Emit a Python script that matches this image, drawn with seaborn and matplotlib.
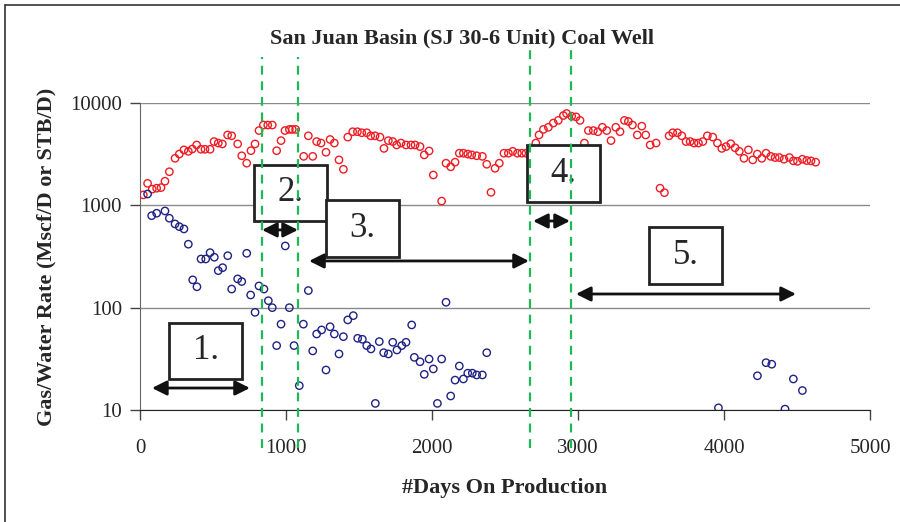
import numpy as np
import pandas as pd
import matplotlib
matplotlib.use("Agg")
import matplotlib.pyplot as plt
import seaborn as sns
from matplotlib.patches import Rectangle
from matplotlib.lines import Line2D

# ---- data ----
gas_days = [23, 52, 84, 114, 144, 171, 201, 240, 269, 301, 331, 358, 388, 418, 445, 480,
            507, 536, 564, 600, 628, 669, 697, 731, 760, 788, 815, 845, 875, 906, 936, 966,
            993, 1023, 1043, 1066, 1121, 1153, 1183, 1210, 1240, 1274, 1302, 1331, 1363, 1393,
            1423, 1457, 1489, 1519, 1553, 1580, 1610, 1644, 1671, 1701, 1731, 1758, 1788, 1822,
            1856, 1884, 1918, 1947, 1980, 2009, 2066, 2096, 2128, 2158, 2187, 2215, 2245, 2272,
            2306, 2345, 2375, 2404, 2432, 2461, 2493, 2523, 2553, 2585, 2615, 2644, 2676, 2711,
            2733, 2763, 2797, 2831, 2865, 2900, 2922, 2957, 2987, 3014, 3044, 3071, 3105, 3136,
            3167, 3197, 3226, 3259, 3288, 3318, 3345, 3373, 3406, 3437, 3464, 3494, 3535, 3562,
            3592, 3624, 3649, 3681, 3711, 3740, 3768, 3795, 3825, 3855, 3886, 3923, 3955, 3985,
            4014, 4046, 4076, 4105, 4137, 4167, 4197, 4228, 4259, 4288, 4320, 4350, 4379, 4411,
            4448, 4475, 4503, 4537, 4567, 4596, 4628]
gas_rate = [1265, 1640, 1440, 1470, 1490, 1720, 2130, 2880, 3170, 3480, 3370, 3550, 3890, 3530,
            3530, 3530, 4200, 4060, 3980, 4870, 4780, 3980, 3050, 2580, 3420, 3980, 5380, 6090,
            6090, 6090, 3420, 4290, 5380, 5520, 5520, 5520, 3010, 4780, 3010, 4200, 4060, 3300,
            4400, 4060, 2780, 2250, 4640, 5240, 5240, 5120, 5120, 4780, 4780, 4640, 3600, 4290,
            4200, 3890, 4060, 3890, 3890, 3890, 3750, 3110, 3400, 1980, 1100, 2580, 2380, 2640,
            3230, 3230, 3170, 3110, 3050, 3010, 2520, 1340, 2300, 2580, 3230, 3230, 3370, 3230,
            3230, 3230, 3010, 4060, 4870, 5520, 5790, 6370, 6760, 7540, 7890, 7420, 7320, 6760,
            4060, 5380, 5380, 5240, 5790, 5380, 4290, 5790, 5240, 6760, 6600, 6090, 4870, 5940,
            4870, 3890, 4060, 1470, 1330, 4780, 5120, 5120, 4780, 4200, 4200, 4060, 4060, 4200,
            4780, 4640, 4060, 3600, 3750, 4000, 3650, 3370, 2880, 3480, 2780, 3170, 2880, 3230,
            3010, 2930, 2930, 2820, 2930, 2720, 2690, 2820, 2740, 2720, 2640]

water_days = [52, 80, 114, 171, 201, 240, 269, 301, 331, 361, 390, 418, 450, 480, 509, 536,
              566, 601, 628, 669, 697, 731, 758, 788, 815, 849, 879, 906, 936, 966, 995, 1023,
              1055, 1091, 1119, 1153, 1183, 1210, 1244, 1274, 1302, 1331, 1363, 1393, 1423, 1461,
              1491, 1523, 1553, 1582, 1612, 1639, 1669, 1701, 1731, 1760, 1793, 1822, 1861, 1879,
              1918, 1947, 1980, 2009, 2037, 2066, 2096, 2128, 2158, 2187, 2215, 2245, 2276, 2306,
              2345, 2375, 3962, 4229, 4288, 4327, 4418, 4475, 4537]
water_rate = [1290, 792, 837, 881, 748, 658, 619, 588, 417, 187, 160, 299, 299, 345, 311, 230,
              246, 322, 152, 191, 180, 340, 133, 90, 163, 152, 117, 100, 42.6, 69, 401, 100,
              42.6, 17.3, 69, 147, 37.8, 55.3, 60.6, 24.6, 65.1, 55.3, 35.3, 52.1, 75.9, 83.6,
              50.2, 49.1, 42.6, 39.5, 11.6, 46.6, 36.3, 35.3, 45.9, 38.6, 42.6, 45.9, 67.8, 32.7,
              29.6, 22.3, 31.5, 25.2, 11.6, 31.5, 113, 13.7, 19.6, 26.9, 20.1, 22.9, 22.9, 22.0,
              22.0, 36.3, 10.5, 21.6, 29.0, 28.0, 10.2, 20.1, 15.5]

# period boundaries (days) and annotation labels
boundaries = [836, 1082, 2671, 2952]
period_labels = ["1.", "2.", "3.", "4.", "5."]
arrow_start = [82, 836, 1158, 2692, 2986]
arrow_end = [753, 1082, 2664, 2945, 4493]
arrow_level = [16.4, 575, 286, 703, 136]
box_left = [199, 781, 1274, 2651, 3486]
box_bottom = [20.1, 703, 313, 1079, 171]
box_top = [70.8, 2484, 1130, 3890, 615]
box_width = 500

gas = pd.DataFrame({"days": gas_days, "rate": gas_rate})
water = pd.DataFrame({"days": water_days, "rate": water_rate})

sns.set_style("white")
plt.rcParams["font.family"] = ["Liberation Serif", "DejaVu Serif"]

fig = plt.figure(figsize=(9, 5.22), dpi=100)
ax = fig.add_axes([140 / 900, 1 - 410 / 522, 730 / 900, 307 / 522])

sns.scatterplot(data=gas, x="days", y="rate", ax=ax, marker="o", s=28,
                facecolor="none", edgecolor="#ee1c24", linewidth=1.0, zorder=3)
sns.scatterplot(data=water, x="days", y="rate", ax=ax, marker="o", s=28,
                facecolor="none", edgecolor="#1f2283", linewidth=1.0, zorder=3)

ax.set_yscale("log")
ax.set_ylim(10, 10000)
ax.set_xlim(0, 5000)
ax.set_xticks(range(0, 5001, 1000))
ax.set_yticks([10, 100, 1000, 10000])
ax.set_yticklabels(["10", "100", "1000", "10000"])
ax.yaxis.set_minor_locator(matplotlib.ticker.NullLocator())
ax.grid(axis="y", color="#8a8a8a", linewidth=1.0)
ax.set_axisbelow(True)
for side in ["top", "right"]:
    ax.spines[side].set_visible(False)
ax.spines["left"].set_color("#666666")
ax.spines["bottom"].set_color("#222222")
ax.tick_params(axis="both", labelsize=15, length=7, width=1, direction="out",
               color="#444444", left=True, bottom=True)
ax.tick_params(axis="x", pad=14)
ax.tick_params(axis="y", pad=6)

ax.set_xlabel("#Days On Production", fontsize=16, fontweight="bold")
ax.set_ylabel("Gas/Water Rate (Mscf/D or STB/D)", fontsize=16, fontweight="bold")
ax.xaxis.set_label_coords(0.5, -0.22)
ax.yaxis.set_label_coords(-0.115, 0.5)

fig.text(462 / 900, 1 - 38 / 522, "San Juan Basin (SJ 30-6 Unit) Coal Well",
         ha="center", va="center", fontsize=16, fontweight="bold")

# boxes with period numbers
for lab, x0, y0, y1 in zip(period_labels, box_left, box_bottom, box_top):
    ax.add_patch(Rectangle((x0, y0), box_width, y1 - y0, facecolor="white",
                           edgecolor="#222222", linewidth=2, zorder=4))
    ax.text(x0 + box_width / 2, np.sqrt(y0 * y1), lab, ha="center", va="center",
            fontsize=25, zorder=5)

# double headed arrows
for xa, xb, yl in zip(arrow_start, arrow_end, arrow_level):
    ax.annotate("", xy=(xb, yl), xytext=(xa, yl),
                arrowprops=dict(arrowstyle="<|-|>", color="#111111", lw=2,
                                mutation_scale=22, shrinkA=0, shrinkB=0), zorder=6)

# green dashed period boundaries
tops = [1.15, 1.15, 1.175, 1.185]
for xb, yt in zip(boundaries, tops):
    ax.axvline(xb, ymin=-0.125, ymax=yt, color="#1db954", linestyle=(0, (4, 3)),
               linewidth=1.6, clip_on=False, zorder=7)

# frame around the figure
fig.add_artist(Line2D([5 / 900, 1], [1 - 5 / 522, 1 - 5 / 522], color="#333333", lw=1.2))
fig.add_artist(Line2D([5 / 900, 5 / 900], [0, 1 - 5 / 522], color="#333333", lw=1.2))

fig.savefig("out.png", dpi=100)
